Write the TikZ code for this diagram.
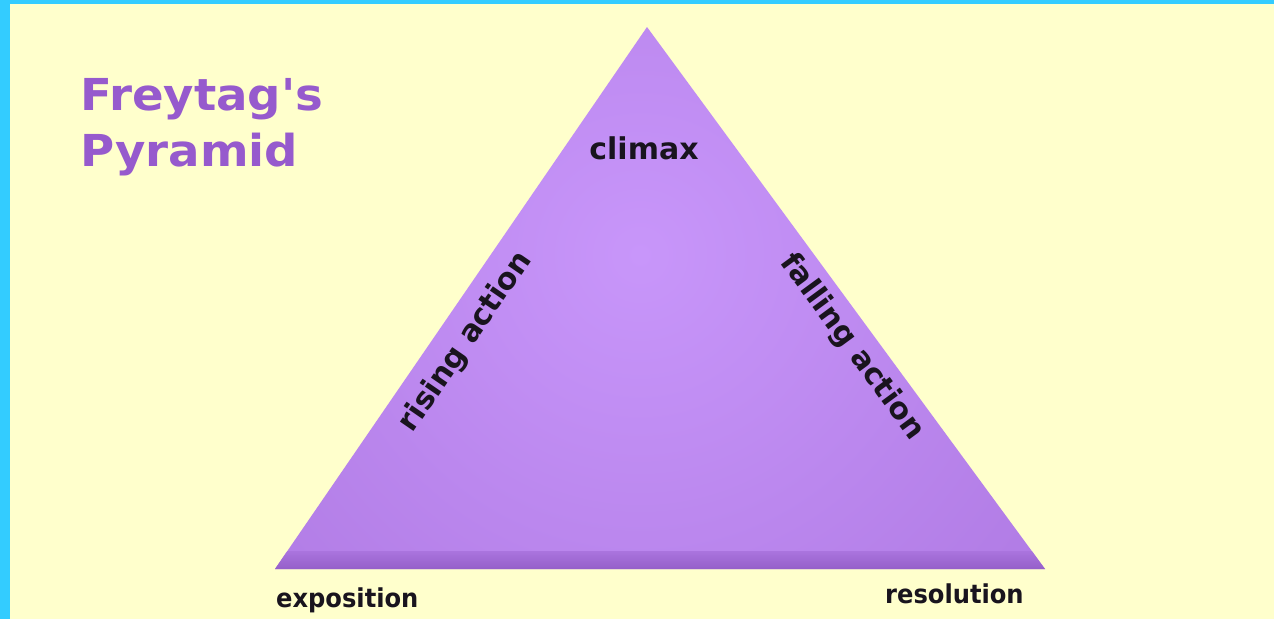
\documentclass[tikz,border=0pt]{standalone}
\usepackage{fontspec}
\setmainfont{DejaVu Sans}
\newfontfamily\titlefont{DejaVu Sans}
\usepackage{xcolor}
\definecolor{pageyellow}{RGB}{255,255,204}
\definecolor{bordercyan}{RGB}{51,204,255}
\definecolor{titlepurple}{RGB}{150,90,205}
\definecolor{pyrlight}{RGB}{200,150,250}
\definecolor{pyrdark}{RGB}{165,110,218}
\definecolor{pyrmid}{RGB}{170,116,222}
\definecolor{pyrband}{RGB}{148,94,200}
\definecolor{labelblack}{RGB}{25,20,30}
\tikzset{
    label-text/.style = {font=\bfseries\fontsize{30}{34}\selectfont, text=labelblack, inner sep=0pt},
    base-text/.style = {label-text, font=\bfseries\fontsize{26}{30}\selectfont, xscale=0.93, anchor=base west},
    title-text/.style = {font=\titlefont\bfseries\fontsize{44}{50}\selectfont, text=titlepurple, xscale=1.06, inner sep=0pt, anchor=base west},
}

\begin{document}
\begin{tikzpicture}[x=1pt, y=-1pt]
\useasboundingbox (0,0) rectangle (1274,619);
\fill[pageyellow] (0,0) rectangle (1274,619);
\fill[bordercyan] (0,0) rectangle (1274,4);
\fill[bordercyan] (0,0) rectangle (10,619);

% the pyramid
\coordinate (apex) at (647,27);
\coordinate (base-left) at (275,569);
\coordinate (base-right) at (1045,569);
\begin{scope}
\clip (apex) -- (base-right) -- (base-left) -- cycle;
\shade[inner color=pyrlight, outer color=pyrdark] (640,255) circle (760);
\shade[top color=pyrmid, bottom color=pyrband] (250,551) rectangle (1070,570);
\end{scope}

\node[label-text, anchor=base] (climax) at (644,159) {climax};
\node[label-text, rotate=55.5] (rising) at (466,342) {rising action};
\node[label-text, rotate=-53.7] (falling) at (852,347) {falling action};
\node[base-text] (exposition) at (276,607) {exposition};
\node[base-text] (resolution) at (885,603) {resolution};

\node[title-text] (title-top) at (80,110) {Freytag's};
\node[title-text] (title-bottom) at ([yshift=-56pt]title-top.base west) {Pyramid};
\end{tikzpicture}
\end{document}
